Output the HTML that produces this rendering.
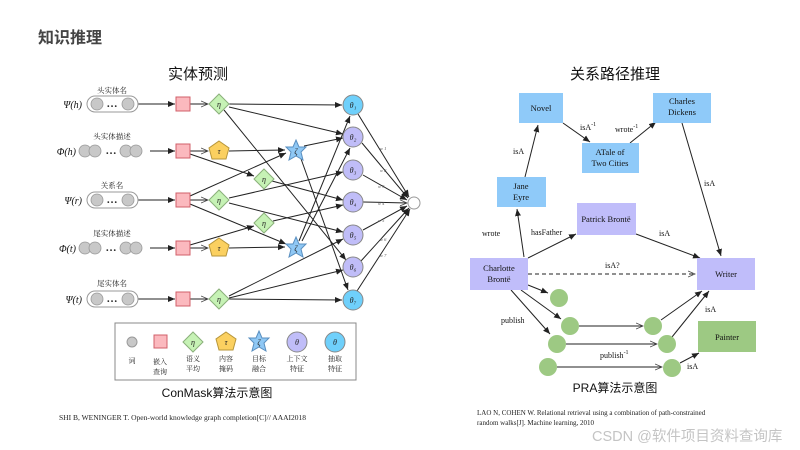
<!DOCTYPE html>
<html><head><meta charset="utf-8"><style>
html,body{margin:0;padding:0;background:#fff;}
svg{display:block;}
text{font-family:"Liberation Serif","Noto Serif CJK SC",serif;}
.cj{font-family:"Liberation Sans","Noto Sans CJK SC",sans-serif;}
</style></head><body>
<svg width="800" height="450" viewBox="0 0 800 450" xmlns="http://www.w3.org/2000/svg">
<defs>
<marker id="a" markerWidth="8" markerHeight="8" refX="7" refY="4" orient="auto" markerUnits="userSpaceOnUse"><path d="M0,1 L7,4 L0,7 Z" fill="#222"/></marker>
<marker id="o" markerWidth="8" markerHeight="8" refX="7" refY="4" orient="auto" markerUnits="userSpaceOnUse"><path d="M0,1 L7,4 L0,7" fill="none" stroke="#444" stroke-width="0.8"/></marker>
</defs>
<text x="38" y="43" class="cj" font-size="16" font-weight="bold" fill="#444">知识推理</text>
<text x="198" y="79" class="cj" font-size="15" text-anchor="middle" fill="#111">实体预测</text>
<text x="615" y="79" class="cj" font-size="15" text-anchor="middle" fill="#111">关系路径推理</text>

<g stroke="#222" stroke-width="1" fill="none">
<line x1="137" y1="104" x2="175" y2="104" marker-end="url(#a)"/>
<line x1="150" y1="151" x2="175" y2="151" marker-end="url(#a)"/>
<line x1="137" y1="200" x2="175" y2="200" marker-end="url(#a)"/>
<line x1="150" y1="248" x2="175" y2="248" marker-end="url(#a)"/>
<line x1="137" y1="299" x2="175" y2="299" marker-end="url(#a)"/>
<line x1="190" y1="104" x2="208" y2="104" marker-end="url(#o)"/>
<line x1="190" y1="151" x2="208" y2="151" marker-end="url(#o)"/>
<line x1="190" y1="200" x2="208" y2="200" marker-end="url(#o)"/>
<line x1="190" y1="248" x2="208" y2="248" marker-end="url(#o)"/>
<line x1="190" y1="299" x2="208" y2="299" marker-end="url(#o)"/>
<line x1="229" y1="104" x2="342" y2="105" marker-end="url(#a)"/>
<line x1="229" y1="107" x2="343" y2="134" marker-end="url(#a)"/>
<line x1="224" y1="110" x2="346" y2="260" marker-end="url(#a)"/>
<line x1="190" y1="154" x2="254" y2="176" marker-end="url(#a)"/>
<line x1="229" y1="151" x2="285" y2="150" marker-end="url(#a)"/>
<line x1="304" y1="146" x2="343" y2="138" marker-end="url(#a)"/>
<line x1="300" y1="156" x2="348" y2="290" marker-end="url(#a)"/>
<line x1="272" y1="181" x2="343" y2="200" marker-end="url(#a)"/>
<line x1="190" y1="196" x2="286" y2="153" marker-end="url(#a)"/>
<line x1="190" y1="204" x2="286" y2="244" marker-end="url(#a)"/>
<line x1="229" y1="198" x2="343" y2="172" marker-end="url(#a)"/>
<line x1="229" y1="203" x2="343" y2="232" marker-end="url(#a)"/>
<line x1="190" y1="245" x2="254" y2="226" marker-end="url(#a)"/>
<line x1="229" y1="248" x2="285" y2="247" marker-end="url(#a)"/>
<line x1="273" y1="221" x2="343" y2="205" marker-end="url(#a)"/>
<line x1="299" y1="241" x2="350" y2="116" marker-end="url(#a)"/>
<line x1="302" y1="241" x2="350" y2="148" marker-end="url(#a)"/>
<line x1="229" y1="296" x2="343" y2="239" marker-end="url(#a)"/>
<line x1="229" y1="298" x2="343" y2="270" marker-end="url(#a)"/>
<line x1="229" y1="299" x2="342" y2="300" marker-end="url(#a)"/>
<line x1="358" y1="114" x2="409" y2="197" marker-end="url(#a)"/>
<line x1="362" y1="143" x2="408" y2="198" marker-end="url(#a)"/>
<line x1="363" y1="175" x2="407" y2="200" marker-end="url(#a)"/>
<line x1="363" y1="202" x2="407" y2="203" marker-end="url(#o)"/>
<line x1="363" y1="230" x2="407" y2="206" marker-end="url(#a)"/>
<line x1="361" y1="261" x2="409" y2="208" marker-end="url(#a)"/>
<line x1="357" y1="291" x2="410" y2="209" marker-end="url(#a)"/>
</g>
<g font-size="4.5" fill="#555" font-style="italic">
<text x="380" y="150">w 1</text><text x="380" y="172">w 2</text><text x="378" y="188">w 3</text>
<text x="378" y="205">w 4</text><text x="378" y="222">w 5</text><text x="380" y="241">w 6</text><text x="380" y="257">w 7</text>
</g>
<g class="cj" font-size="7.5" fill="#222" text-anchor="middle">
<text x="112" y="93">头实体名</text><text x="112" y="139">头实体描述</text><text x="112" y="188">关系名</text>
<text x="112" y="236">尾实体描述</text><text x="112" y="286">尾实体名</text>
</g>
<g font-size="10" font-style="italic" text-anchor="end" fill="#111">
<text x="82" y="108">Ψ(h)</text><text x="76" y="155">Φ(h)</text><text x="82" y="204">Ψ(r)</text>
<text x="76" y="252">Φ(t)</text><text x="82" y="303">Ψ(t)</text>
</g>
<g fill="#fff" stroke="#999" stroke-width="1">
<rect x="87" y="96" width="51" height="16" rx="8"/><rect x="87" y="192" width="51" height="16" rx="8"/><rect x="87" y="291" width="51" height="16" rx="8"/>
</g>
<g fill="#c8c8c8" stroke="#999" stroke-width="0.8">
<circle cx="97" cy="104" r="6"/><circle cx="128" cy="104" r="6"/>
<circle cx="97" cy="200" r="6"/><circle cx="128" cy="200" r="6"/>
<circle cx="97" cy="299" r="6"/><circle cx="128" cy="299" r="6"/>
<circle cx="85" cy="151" r="6"/><circle cx="95" cy="151" r="6"/><circle cx="126" cy="151" r="6"/><circle cx="136" cy="151" r="6"/>
<circle cx="85" cy="248" r="6"/><circle cx="95" cy="248" r="6"/><circle cx="126" cy="248" r="6"/><circle cx="136" cy="248" r="6"/>
</g>
<g font-size="11" font-weight="bold" fill="#222" text-anchor="middle">
<text x="112" y="107">…</text><text x="111" y="154">…</text><text x="112" y="203">…</text><text x="111" y="251">…</text><text x="112" y="302">…</text>
</g>
<g fill="#fbb9be" stroke="#d0606a" stroke-width="1">
<rect x="176" y="97" width="14" height="14"/><rect x="176" y="144" width="14" height="14"/><rect x="176" y="193" width="14" height="14"/><rect x="176" y="241" width="14" height="14"/><rect x="176" y="292" width="14" height="14"/>
</g>
<g fill="#c6f2b5" stroke="#8ab07a" stroke-width="1">
<path d="M219,94 L229,104 L219,114 L209,104Z"/><path d="M219,190 L229,200 L219,210 L209,200Z"/><path d="M219,289 L229,299 L219,309 L209,299Z"/>
<path d="M264,169 L274,179 L264,189 L254,179Z"/><path d="M264,213 L274,223 L264,233 L254,223Z"/>
</g>
<g fill="#fbd060" stroke="#b7963a" stroke-width="1">
<path d="M219,141 L229,148 L226,159 L212,159 L209,148Z"/><path d="M219,238 L229,245 L226,256 L212,256 L209,245Z"/>
</g>
<g fill="#8fc8f5" stroke="#5a8fc0" stroke-width="1">
<path d="M296,140 L299,147 L306,147 L301,152 L303,160 L296,156 L289,160 L291,152 L286,147 L293,147Z"/>
<path d="M296,237 L299,244 L306,244 L301,249 L303,257 L296,253 L289,257 L291,249 L286,244 L293,244Z"/>
</g>
<g font-size="8" font-style="italic" text-anchor="middle" fill="#222">
<text x="219" y="107">η</text><text x="219" y="203">η</text><text x="219" y="302">η</text><text x="264" y="182">η</text><text x="264" y="226">η</text>
<text x="219" y="154">τ</text><text x="219" y="251">τ</text><text x="296" y="154">ζ</text><text x="296" y="251">ζ</text>
</g>
<g stroke="#888" stroke-width="1">
<circle cx="353" cy="105" r="10" fill="#6fd0fb"/><circle cx="353" cy="137" r="10" fill="#c0bdf8"/><circle cx="353" cy="170" r="10" fill="#c0bdf8"/><circle cx="353" cy="202" r="10" fill="#c0bdf8"/><circle cx="353" cy="235" r="10" fill="#c0bdf8"/><circle cx="353" cy="267" r="10" fill="#c0bdf8"/><circle cx="353" cy="300" r="10" fill="#6fd0fb"/>
<circle cx="414" cy="203" r="6" fill="#fff" stroke="#999"/>
</g>
<g font-size="8" font-style="italic" text-anchor="middle" fill="#222">
<text x="353" y="108">θ₁</text><text x="353" y="140">θ₂</text><text x="353" y="173">θ₃</text><text x="353" y="205">θ₄</text><text x="353" y="238">θ₅</text><text x="353" y="270">θ₆</text><text x="353" y="303">θ₇</text>
</g>
<rect x="115" y="323" width="241" height="57" fill="#fff" stroke="#888" stroke-width="1"/>
<circle cx="132" cy="342" r="5" fill="#c8c8c8" stroke="#999"/>
<rect x="154" y="335" width="13" height="13" fill="#fbb9be" stroke="#d0606a"/>
<path d="M193,332 L203,342 L193,352 L183,342Z" fill="#c6f2b5" stroke="#8ab07a"/>
<path d="M226,332 L236,339 L233,350 L219,350 L216,339Z" fill="#fbd060" stroke="#b7963a"/>
<path d="M259,331 L262,338 L269,338 L264,343 L266,351 L259,347 L252,351 L254,343 L249,338 L256,338Z" fill="#8fc8f5" stroke="#5a8fc0"/>
<circle cx="297" cy="342" r="10" fill="#c0bdf8" stroke="#888"/>
<circle cx="335" cy="342" r="10" fill="#6fd0fb" stroke="#888"/>
<g font-size="8" font-style="italic" text-anchor="middle" fill="#222">
<text x="193" y="345">η</text><text x="226" y="345">τ</text><text x="259" y="345">ζ</text><text x="297" y="345">θ</text><text x="335" y="345">θ</text>
</g>
<g class="cj" font-size="7" text-anchor="middle" fill="#222">
<text x="132" y="363">词</text>
<text x="160" y="364">嵌入</text><text x="160" y="374">查询</text>
<text x="193" y="361">语义</text><text x="193" y="371">平均</text>
<text x="226" y="361">内容</text><text x="226" y="371">掩码</text>
<text x="259" y="361">目标</text><text x="259" y="371">融合</text>
<text x="297" y="361">上下文</text><text x="297" y="371">特征</text>
<text x="335" y="361">抽取</text><text x="335" y="371">特征</text>
</g>
<text x="217" y="397" class="cj" font-size="12" text-anchor="middle" fill="#111">ConMask算法示意图</text>
<text x="59" y="420" font-size="7.5" fill="#222">SHI B, WENINGER T. Open-world knowledge graph completion[C]// AAAI2018</text>

<g stroke="#222" stroke-width="1" fill="none">
<line x1="524" y1="257" x2="517" y2="209" marker-end="url(#a)"/>
<line x1="525" y1="177" x2="538" y2="125" marker-end="url(#a)"/>
<line x1="563" y1="123" x2="590" y2="142" marker-end="url(#a)"/>
<line x1="630" y1="143" x2="656" y2="122" marker-end="url(#a)"/>
<line x1="682" y1="123" x2="721" y2="256" marker-end="url(#a)"/>
<line x1="528" y1="258" x2="576" y2="234" marker-end="url(#a)"/>
<line x1="636" y1="234" x2="700" y2="258" marker-end="url(#a)"/>
<line x1="528" y1="274" x2="695" y2="274" stroke-dasharray="4,3" marker-end="url(#o)"/>
<line x1="528" y1="285" x2="548" y2="293" marker-end="url(#a)"/>
<line x1="521" y1="290" x2="561" y2="319" marker-end="url(#a)"/>
<line x1="511" y1="290" x2="550" y2="334" marker-end="url(#a)"/>
<line x1="579" y1="326" x2="643" y2="326" marker-end="url(#o)"/>
<line x1="566" y1="344" x2="657" y2="344" marker-end="url(#o)"/>
<line x1="557" y1="367" x2="662" y2="367" marker-end="url(#o)"/>
<line x1="661" y1="320" x2="702" y2="291" marker-end="url(#a)"/>
<line x1="672" y1="337" x2="709" y2="291" marker-end="url(#a)"/>
<line x1="680" y1="363" x2="699" y2="353" marker-end="url(#a)"/>
</g>
<g fill="#8fcaf9">
<rect x="519" y="93" width="44" height="30"/><rect x="653" y="93" width="58" height="30"/><rect x="582" y="143" width="57" height="30"/><rect x="497" y="177" width="49" height="30"/>
</g>
<g fill="#c0bdfa">
<rect x="577" y="203" width="59" height="32"/><rect x="470" y="258" width="58" height="32"/><rect x="697" y="258" width="58" height="32"/>
</g>
<rect x="698" y="321" width="58" height="31" fill="#9dc983"/>
<g fill="#9dc983">
<circle cx="559" cy="298" r="9"/><circle cx="570" cy="326" r="9"/><circle cx="653" cy="326" r="9"/><circle cx="557" cy="344" r="9"/><circle cx="667" cy="344" r="9"/><circle cx="548" cy="367" r="9"/><circle cx="672" cy="368" r="9"/>
</g>
<g font-size="8.5" text-anchor="middle" fill="#111">
<text x="541" y="111">Novel</text>
<text x="682" y="104">Charles</text><text x="682" y="115">Dickens</text>
<text x="610" y="155">ATale of</text><text x="610" y="166">Two Cities</text>
<text x="521" y="189">Jane</text><text x="521" y="200">Eyre</text>
<text x="606" y="222">Patrick Brontë</text>
<text x="499" y="271">Charlotte</text><text x="499" y="282">Brontë</text>
<text x="726" y="277">Writer</text>
<text x="727" y="340">Painter</text>
</g>
<g font-size="8" fill="#111">
<text x="513" y="154">isA</text>
<text x="580" y="130">isA<tspan font-size="6" dy="-4">-1</tspan></text>
<text x="615" y="132">wrote<tspan font-size="6" dy="-4">-1</tspan></text>
<text x="704" y="186">isA</text>
<text x="482" y="236">wrote</text>
<text x="531" y="235">hasFather</text>
<text x="659" y="236">isA</text>
<text x="605" y="268">isA?</text>
<text x="501" y="323">publish</text>
<text x="705" y="312">isA</text>
<text x="600" y="358">publish<tspan font-size="6" dy="-4">-1</tspan></text>
<text x="687" y="369">isA</text>
</g>
<text x="615" y="392" class="cj" font-size="12" text-anchor="middle" fill="#111">PRA算法示意图</text>
<text x="477" y="415" font-size="7" fill="#222">LAO N, COHEN W. Relational retrieval using a combination of path-constrained</text>
<text x="477" y="425" font-size="7" fill="#222">random walks[J]. Machine learning, 2010</text>
<text x="592" y="441" class="cj" font-size="14.5" fill="#c4c4c4">CSDN @软件项目资料查询库</text>
</svg>
</body></html>
